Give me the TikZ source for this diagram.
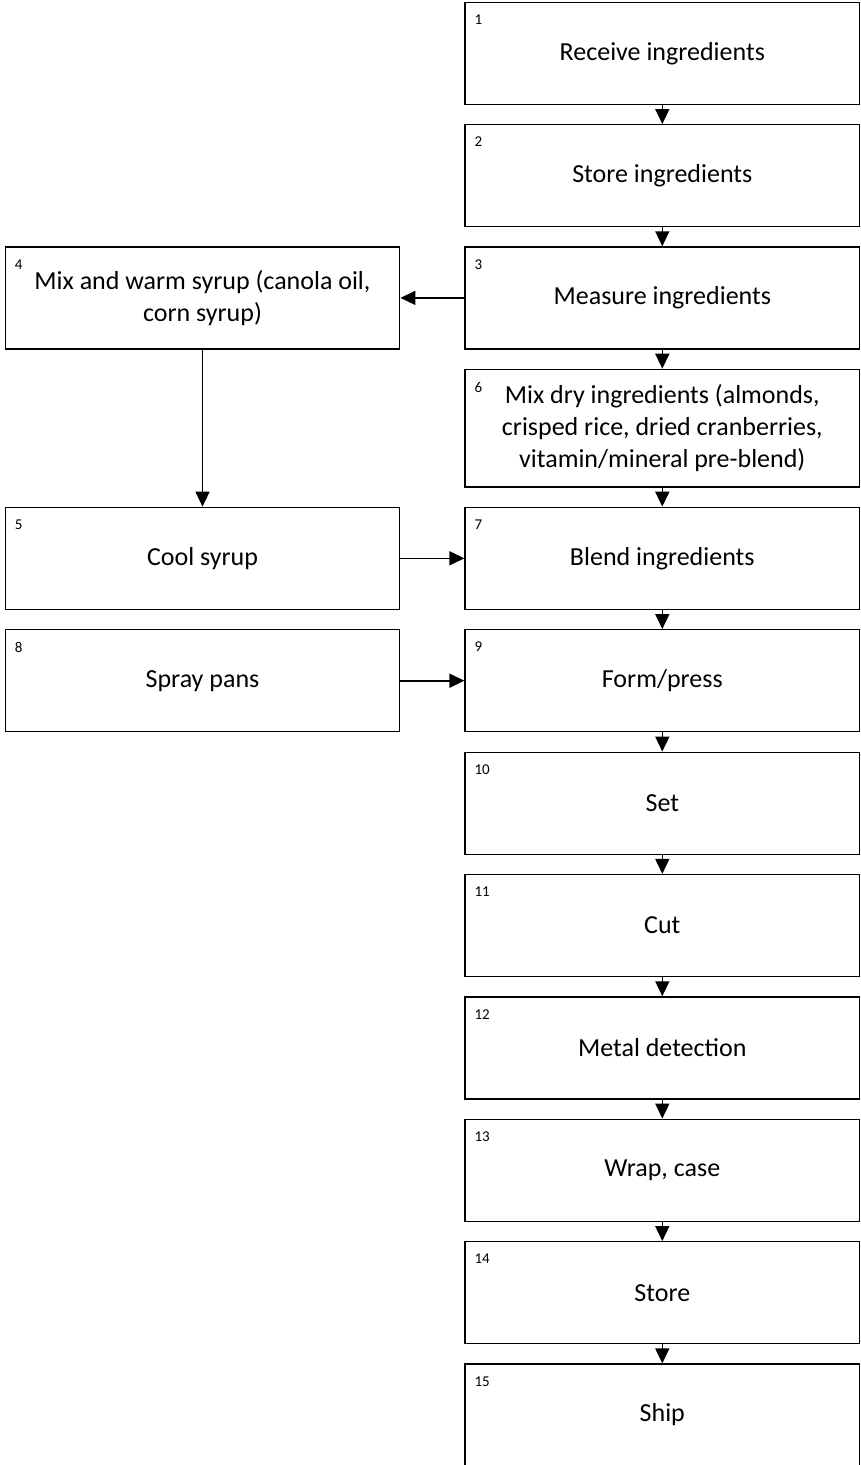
\documentclass[tikz,border=0pt]{standalone}
\usepackage{fontspec}
\setmainfont{Carlito}
\usetikzlibrary{arrows.meta}

\tikzset{
  procbox/.style={draw, line width=1.3pt, minimum width=394.5pt, minimum height=102pt,
    inner sep=0pt, align=center, font=\fontsize{26}{32}\selectfont},
  tallbox/.style={procbox, minimum height=117.7pt},
  numtag/.style={anchor=north west, inner sep=0pt, font=\fontsize{15}{18}\selectfont},
  flow/.style={line width=1.6pt, -{Triangle[length=15pt,width=14pt]}}
}
\newcommand{\boxnum}[2]{\node[numtag] (n#2) at ([xshift=10pt,yshift=-13pt]#1.north west) {#2};}

\begin{document}
\begin{tikzpicture}[x=1pt,y=-1pt]
\useasboundingbox (0,0) rectangle (861,1465);
% main line
\node[procbox] (b1) at (662.3,53.3) {Receive ingredients};
\node[procbox] (b2) at (662.3,175.7) {Store ingredients};
\node[procbox] (b3) at (662.3,297.9) {Measure ingredients};
\node[tallbox] (b6) at (662.3,428.2) {Mix dry ingredients (almonds,\\crisped rice, dried cranberries,\\vitamin/mineral pre-blend)};
\node[procbox] (b7) at (662.3,558.3) {Blend ingredients};
\node[procbox] (b9) at (662.3,680.7) {Form/press};
\node[procbox] (b10) at (662.3,803.2) {Set};
\node[procbox] (b11) at (662.3,925.5) {Cut};
\node[procbox] (b12) at (662.3,1047.9) {Metal detection};
\node[procbox] (b13) at (662.3,1170.2) {Wrap, case};
\node[procbox] (b14) at (662.3,1292.7) {Store};
\node[procbox] (b15) at (662.3,1415) {Ship};
% side line
\node[procbox] (b4) at (202.5,297.9) {Mix and warm syrup (canola oil,\\corn syrup)};
\node[procbox] (b5) at (202.5,558.3) {Cool syrup};
\node[procbox] (b8) at (202.5,680.7) {Spray pans};
% numbers
\boxnum{b1}{1} \boxnum{b2}{2} \boxnum{b3}{3} \boxnum{b4}{4} \boxnum{b5}{5}
\boxnum{b6}{6} \boxnum{b7}{7} \boxnum{b8}{8} \boxnum{b9}{9} \boxnum{b10}{10}
\boxnum{b11}{11} \boxnum{b12}{12} \boxnum{b13}{13} \boxnum{b14}{14} \boxnum{b15}{15}
% arrows
\draw[flow] (b1) -- (b2);
\draw[flow] (b2) -- (b3);
\draw[flow] (b3) -- (b6);
\draw[flow] (b6) -- (b7);
\draw[flow] (b7) -- (b9);
\draw[flow] (b9) -- (b10);
\draw[flow] (b10) -- (b11);
\draw[flow] (b11) -- (b12);
\draw[flow] (b12) -- (b13);
\draw[flow] (b13) -- (b14);
\draw[flow] (b14) -- (b15);
\draw[flow] (b3) -- (b4);
\draw[flow] (b4) -- (b5);
\draw[flow] (b5) -- (b7);
\draw[flow] (b8) -- (b9);
\end{tikzpicture}
\end{document}
